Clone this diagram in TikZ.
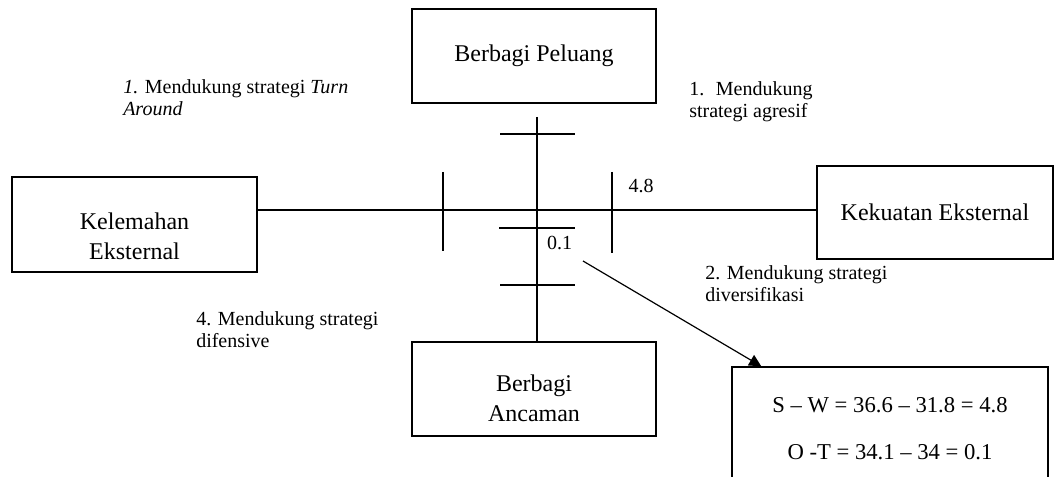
\documentclass[tikz,border=0pt]{standalone}
\usepackage{fontspec}
\setmainfont{Liberation Serif}
\usetikzlibrary{arrows.meta}

\begin{document}
\begin{tikzpicture}[x=0.75pt, y=-0.75pt,
  main/.style = {draw, line width=1.1pt, inner sep=0pt, align=center, font=\fontsize{18}{22.5}\selectfont},
  note/.style = {anchor=north west, inner sep=0pt, align=left, font=\fontsize{15}{16.5}\selectfont},
  val/.style = {inner sep=0pt, font=\fontsize{15}{16.5}\selectfont},
  axis/.style = {line width=0.9pt}]
  \useasboundingbox (0,0) rectangle (1054,477);
  \node[main, minimum width=183pt, minimum height=70.5pt] (peluang) at (534,56) {Berbagi Peluang};
  \node[main, minimum width=183.75pt, minimum height=71.25pt] (lemah) at (134.5,224.5) {\rule{0pt}{30pt}Kelemahan\\Eksternal};
  \node[main, minimum width=177pt, minimum height=69.75pt] (kuat) at (935,212.5) {Kekuatan Eksternal};
  \node[main, minimum width=183pt, minimum height=70.5pt] (ancaman) at (534,389) {\rule{0pt}{27pt}Berbagi\\Ancaman};
  \node[main, minimum width=237pt, minimum height=92.25pt, font=\fontsize{17}{35}\selectfont] (rumus) at (890,428.5) {S -- W = 36.6 -- 31.8 = 4.8\\O -T = 34.1 -- 34 = 0.1};
  \coordinate (o) at (537,210);
  \coordinate (vtop) at (537,117);
  \coordinate (p) at (583,261);
  \draw[axis] (lemah.east |- o) -- (kuat.west |- o);
  \draw[axis] (vtop) -- (vtop |- ancaman.north);
  \draw[axis] (500,134) -- (575,134);
  \draw[axis] (499,228) -- (575,228);
  \draw[axis] (500,285) -- (575,285);
  \draw[axis] (443,172) -- (443,251);
  \draw[axis] (612,172) -- (612,253);
  \node[val] (v48) at (641,186) {4.8};
  \node[val] (v01) at (559.5,243) {0.1};
  \draw[axis, -{Triangle[width=9pt, length=9pt]}] (p) -- ([xshift=22.5pt]rumus.north west);
  \node[note] (turn) at (123,79) {\textit{1.} Mendukung strategi \textit{Turn}\\\textit{Around}};
  \node[note] (agresif) at (689,81) {1.~ Mendukung\\strategi agresif};
  \node[note] (diversi) at (705,265) {2. Mendukung strategi\\diversifikasi};
  \node[note] (difensif) at (196,311) {4. Mendukung strategi\\difensive};
\end{tikzpicture}
\end{document}
